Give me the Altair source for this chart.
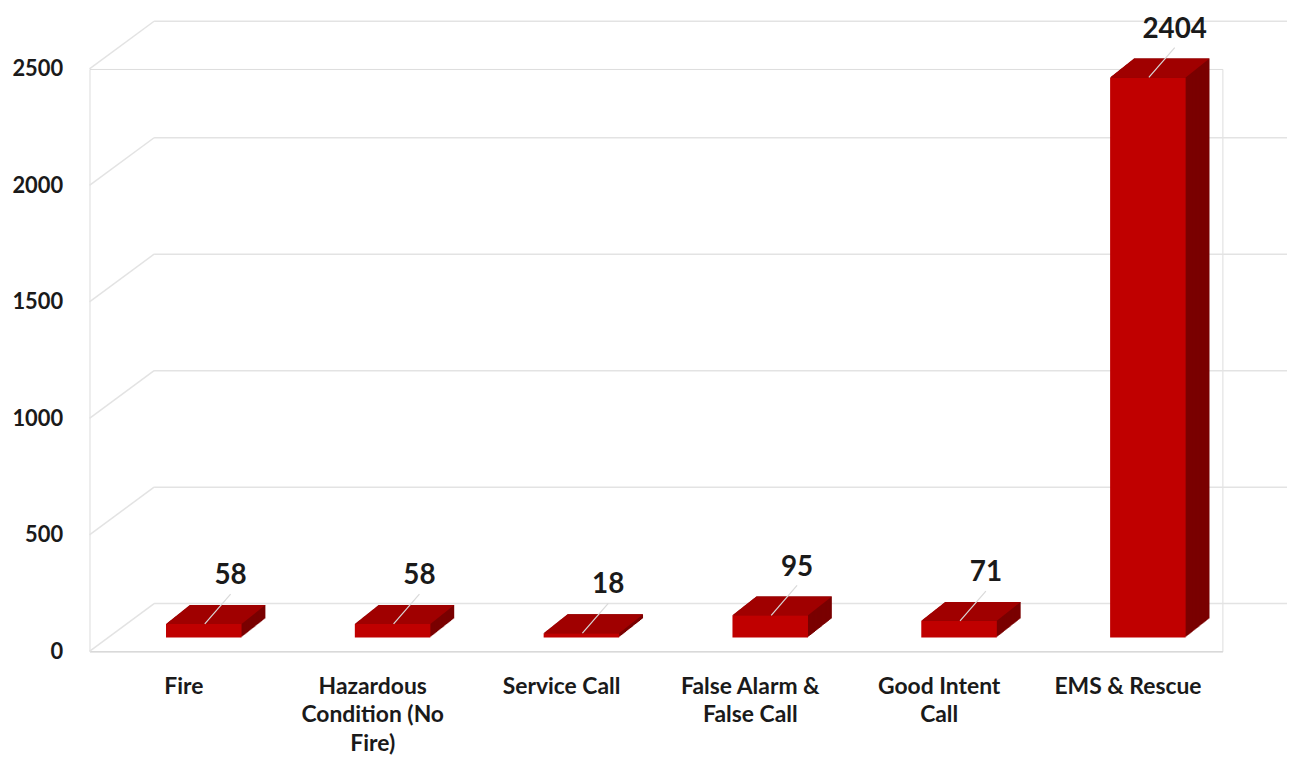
import altair as alt
import pandas as pd

categories = ["Fire", "Hazardous Condition (No Fire)", "Service Call",
              "False Alarm & False Call", "Good Intent Call", "EMS & Rescue"]
wrapped = [["Fire"], ["Hazardous", "Condition (No", "Fire)"], ["Service Call"],
           ["False Alarm &", "False Call"], ["Good Intent", "Call"], ["EMS & Rescue"]]
values = [58, 58, 18, 95, 71, 2404]
grid_values = [0, 500, 1000, 1500, 2000, 2500]

df = pd.DataFrame({"cat": categories, "value": values})
gdf = pd.DataFrame({"v": grid_values})

FONT = "Lato"
W, H = 1140, 586
DX, DY = 65, -48        # floor depth shear
BX, BY = 20, -14        # bar position within depth
SX, SY = 24, -19        # bar depth

def js_list(l):
    return "[" + ",".join("'" + s.replace("'", "\\'") + "'" for s in l) + "]"

expr = "''"
for c, w in reversed(list(zip(categories, wrapped))):
    expr = f"datum.value == '{c}' ? {js_list(w)} : ({expr})"

xs = alt.Scale(domain=categories, paddingInner=0.6, paddingOuter=0.3)
ys = alt.Scale(domain=[0, 2500], nice=False, zero=True)

x_axis = alt.Axis(title=None, labelExpr=expr, labelFont=FONT, labelFontSize=23,
                  labelFontWeight="bold", labelColor="#1a1a1a", labelPadding=24,
                  labelLineHeight=29, ticks=False, domain=True, domainColor="#d9d9d9",
                  domainWidth=1.5, grid=False, labelAngle=0)
y_axis = alt.Axis(title=None, values=grid_values, format="d", labelFont=FONT,
                  labelFontSize=22, labelFontWeight="bold", labelColor="#1a1a1a",
                  labelPadding=27, ticks=False, domain=False, grid=False)

base = alt.Chart(df)

# gridlines: back wall and slanted side wall
back = alt.Chart(gdf).mark_rule(color="#e3e3e3", strokeWidth=1.5, yOffset=DY).encode(
    x=alt.value(DX), x2=alt.value(W + DX),
    y=alt.Y("v:Q", scale=ys, axis=y_axis))
side = alt.Chart(gdf).mark_rule(color="#e3e3e3", strokeWidth=1.5, y2Offset=DY).encode(
    x=alt.value(0), x2=alt.value(DX),
    y=alt.Y("v:Q", scale=ys), y2="v:Q")

layers = [back, side]

# front x axis via an invisible layer
axis_layer = base.mark_bar(opacity=0).encode(
    x=alt.X("cat:N", scale=xs, axis=x_axis, sort=categories),
    y=alt.Y("value:Q", scale=ys))
layers.append(axis_layer)

N = 24
for k in range(N, 0, -1):
    ox = BX + SX * k / N
    oy = BY + SY * k / N
    layers.append(base.mark_bar(color="#7a0000", xOffset=ox, yOffset=oy, y2Offset=oy).encode(
        x=alt.X("cat:N", scale=xs, sort=categories),
        y=alt.Y("value:Q", scale=ys), y2=alt.datum(0)))

path = "M-0.95,0L0.95,0L1.55,-0.475L-0.35,-0.475Z"
top = base.mark_point(shape=path, size=6400, filled=True, color="#a00000", opacity=1,
                      strokeWidth=0, xOffset=BX, yOffset=BY).encode(
    x=alt.X("cat:N", scale=xs, sort=categories),
    y=alt.Y("value:Q", scale=ys))
front = base.mark_bar(color="#c00000", xOffset=BX, yOffset=BY, y2Offset=BY).encode(
    x=alt.X("cat:N", scale=xs, sort=categories),
    y=alt.Y("value:Q", scale=ys), y2=alt.datum(0))
leader = base.mark_rule(color="#d9d9d9", strokeWidth=1.2, xOffset=BX + 1, x2Offset=BX + 27,
                        yOffset=BY, y2Offset=BY - 30).encode(
    x=alt.X("cat:N", scale=xs, sort=categories, bandPosition=0.5),
    x2="cat:N",
    y=alt.Y("value:Q", scale=ys), y2="value:Q")
labels = base.mark_text(font=FONT, fontSize=28, fontWeight="bold", color="#1a1a1a",
                        baseline="alphabetic", xOffset=BX + 27, yOffset=BY - 40).encode(
    x=alt.X("cat:N", scale=xs, sort=categories),
    y=alt.Y("value:Q", scale=ys), text="value:Q")
layers += [front, top, leader, labels]

chart = alt.layer(*layers).properties(
    width=W, height=H,
    autosize=alt.AutoSizeParams(type="none"),
    padding={"left": 82, "top": 59, "right": 65, "bottom": 103},
).configure_view(stroke=None).configure(background="white")

chart.save("out.html", embed_options={"renderer": "svg", "actions": False})
